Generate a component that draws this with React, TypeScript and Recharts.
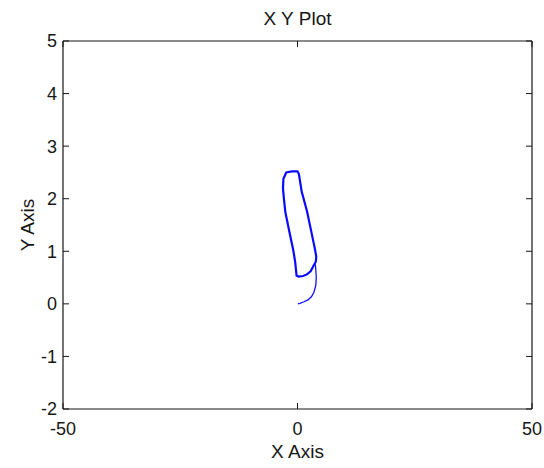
import React from "react";
import { LineChart, Line, XAxis, YAxis } from "recharts";

// Transient: trajectory leaving the origin and heading into the cycle
const tailX = [0.1, 0.5, 1.4, 2.3, 3.0, 3.5, 3.9, 4.0, 3.9, 3.8];
const tailY = [0.0, 0.01, 0.04, 0.08, 0.14, 0.22, 0.35, 0.5, 0.65, 0.75];

// Closed limit cycle
const cycleX = [3.9, 3.5, 2.8, 2.0, 1.2, 0.2, -0.2, -0.5, -0.9, -1.8, -2.6, -2.9, -3.1, -3.0, -2.4, -1.2, 0.0, 0.3, 0.9, 2.0, 3.0, 3.7, 4.0, 3.9];
const cycleY = [0.8, 0.74, 0.62, 0.56, 0.53, 0.52, 0.54, 0.8, 1.02, 1.4, 1.75, 2.0, 2.2, 2.38, 2.5, 2.52, 2.52, 2.47, 2.13, 1.77, 1.35, 1.05, 0.9, 0.8];

const xTicks = [-50, 0, 50];
const yTicks = [-2, -1, 0, 1, 2, 3, 4, 5];
const xDomain: [number, number] = [-50, 50];
const yDomain: [number, number] = [-2, 5];

const title = "X Y Plot";
const xLabel = "X Axis";
const yLabel = "Y Axis";

const tail = tailX.map((x, i) => ({ x, y: tailY[i] }));
const cycle = cycleX.map((x, i) => ({ x, y: cycleY[i] }));

const FONT = "'Liberation Sans', Arial, sans-serif";
const INK = "#161616";
const TICK_LEN = 6;
// offset recharts puts between the axis line and the tick anchor
const GAP = 6;

const BottomTick = (p: any) => {
  const ay = p.y - GAP;
  return (
    <g>
      <line x1={p.x} x2={p.x} y1={ay} y2={ay - TICK_LEN} stroke={INK} strokeWidth={1} />
      <text x={p.x} y={ay + 26} textAnchor="middle" fontFamily={FONT} fontSize={18} fill={INK}>
        {p.payload.value}
      </text>
    </g>
  );
};

const TopTick = (p: any) => {
  const ay = p.y + GAP;
  return <line x1={p.x} x2={p.x} y1={ay} y2={ay + TICK_LEN} stroke={INK} strokeWidth={1} />;
};

const LeftTick = (p: any) => {
  const ax = p.x + GAP;
  return (
    <g>
      <line x1={ax} x2={ax + TICK_LEN} y1={p.y} y2={p.y} stroke={INK} strokeWidth={1} />
      <text x={ax - 6} y={p.y} dy="0.36em" textAnchor="end" fontFamily={FONT} fontSize={18} fill={INK}>
        {p.payload.value}
      </text>
    </g>
  );
};

const RightTick = (p: any) => {
  const ax = p.x - GAP;
  return <line x1={ax} x2={ax - TICK_LEN} y1={p.y} y2={p.y} stroke={INK} strokeWidth={1} />;
};

export default function App() {
  return (
    <div style={{ position: "absolute", left: 0, top: 0, width: 544, height: 468, background: "#fff" }}>
      <LineChart width={544} height={468} margin={{ top: 31, right: 2, bottom: 0, left: 0 }}>
        <XAxis
          xAxisId="b"
          type="number"
          dataKey="x"
          domain={xDomain}
          allowDataOverflow
          ticks={xTicks}
          height={59}
          tickSize={GAP}
          tickMargin={0}
          tickLine={false}
          axisLine={{ stroke: INK, strokeWidth: 1.2 }}
          tick={BottomTick}
          interval={0}
          label={{
            content: (props: any) => {
              const vb = props.viewBox;
              return (
                <text x={vb.x + vb.width / 2} y={vb.y + 49} textAnchor="middle" fontFamily={FONT} fontSize={19} fill={INK}>
                  {xLabel}
                </text>
              );
            },
          }}
        />
        <XAxis
          xAxisId="t"
          orientation="top"
          type="number"
          dataKey="x"
          domain={xDomain}
          allowDataOverflow
          ticks={xTicks}
          height={10}
          tickSize={GAP}
          tickMargin={0}
          tickLine={false}
          axisLine={{ stroke: INK, strokeWidth: 1.2 }}
          tick={TopTick}
          interval={0}
          label={{
            content: (props: any) => {
              const vb = props.viewBox;
              return (
                <text x={vb.x + vb.width / 2} y={vb.y + vb.height - 16.5} textAnchor="middle" fontFamily={FONT} fontSize={19} fill={INK}>
                  {title}
                </text>
              );
            },
          }}
        />
        <YAxis
          yAxisId="l"
          type="number"
          domain={yDomain}
          allowDataOverflow
          ticks={yTicks}
          width={63}
          tickSize={GAP}
          tickMargin={0}
          tickLine={false}
          axisLine={{ stroke: INK, strokeWidth: 1.2 }}
          tick={LeftTick}
          interval={0}
          label={{
            content: (props: any) => {
              const vb = props.viewBox;
              const cx = vb.x + 27;
              const cy = vb.y + vb.height / 2;
              return (
                <text
                  x={cx}
                  y={cy}
                  dy="0.36em"
                  transform={`rotate(-90 ${cx} ${cy})`}
                  textAnchor="middle"
                  fontFamily={FONT}
                  fontSize={19}
                  fill={INK}
                >
                  {yLabel}
                </text>
              );
            },
          }}
        />
        <YAxis
          yAxisId="r"
          orientation="right"
          type="number"
          domain={yDomain}
          allowDataOverflow
          ticks={yTicks}
          width={10}
          tickSize={GAP}
          tickMargin={0}
          tickLine={false}
          axisLine={{ stroke: INK, strokeWidth: 1.2 }}
          tick={RightTick}
          interval={0}
        />
        <Line
          xAxisId="b"
          yAxisId="l"
          data={tail}
          dataKey="y"
          type="linear"
          stroke="#1010ff"
          strokeWidth={1.3}
          dot={false}
          isAnimationActive={false}
        />
        <Line
          xAxisId="b"
          yAxisId="l"
          data={cycle}
          dataKey="y"
          type="linear"
          stroke="#0a0aff"
          strokeWidth={2.2}
          dot={false}
          isAnimationActive={false}
        />
      </LineChart>
    </div>
  );
}
